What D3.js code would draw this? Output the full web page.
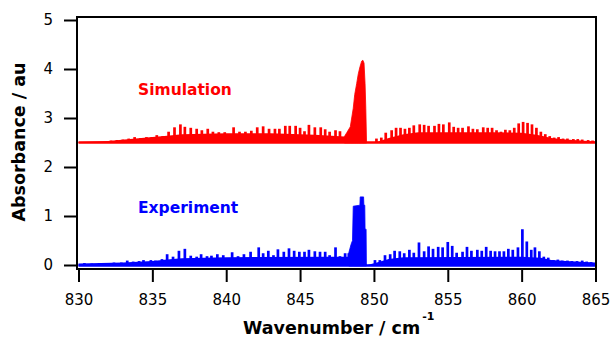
<!DOCTYPE html>
<html><head><meta charset="utf-8">
<script src="https://cdn.jsdelivr.net/npm/d3@7"></script>
<style>body{margin:0;background:#fff} svg{display:block}</style>
</head><body><svg id="c" width="611" height="340"></svg>
<script>
const xTicks = [830, 835, 840, 845, 850, 855, 860, 865];
const yTicks = [0, 1, 2, 3, 4, 5];
const xTitle = "Wavenumber / cm";
const xTitleSup = "-1";
const yTitle = "Absorbance / au";
const simLabel = "Simulation";
const expLabel = "Experiment";

// Simulation (red) — offset trace
const simBase = 2.49;
const simFillX = [830, 832, 833.5, 835, 836, 837, 840, 843, 846, 848, 849.55, 850.0, 850.3, 851, 852, 853, 858, 860, 861, 861.5, 862, 863, 865];
const simFillY = [2.51, 2.53, 2.57, 2.61, 2.64, 2.67, 2.69, 2.69, 2.66, 2.62, 2.49, 2.5, 2.52, 2.59, 2.67, 2.71, 2.71, 2.70, 2.66, 2.63, 2.59, 2.56, 2.52];
const simPeakX = [832.2, 832.6, 833.0, 833.4, 833.8, 834.2, 834.6, 834.96, 835.3, 835.7, 836.1, 836.5, 836.9, 837.2, 837.6, 838.0, 838.35, 838.75, 839.1, 839.5, 839.9, 840.5, 840.9, 841.3, 841.7, 842.1, 842.5, 842.9, 843.3, 843.6, 844.0, 844.3, 844.7, 845.0, 845.3, 845.6, 846.0, 846.4, 846.7, 847.0, 847.4, 847.7,
  850.17, 850.5, 850.8, 851.2, 851.5, 851.8, 852.1, 852.4, 852.7, 853.1, 853.4, 853.7, 854.1, 854.4, 854.7, 855.1, 855.4, 855.7, 856.0, 856.4, 856.7, 857.0, 857.4, 857.7, 858.0, 858.3, 858.6, 858.9, 859.2, 859.5, 859.8, 860.1, 860.4, 860.7, 861.0, 861.3, 861.6, 861.9, 862.2, 862.5, 862.8, 863.1, 863.5, 863.8, 864.1, 864.5, 864.8];
const simPeakY = [2.54, 2.55, 2.56, 2.58, 2.61, 2.59, 2.61, 2.61, 2.65, 2.63, 2.72, 2.81, 2.87, 2.82, 2.80, 2.78, 2.75, 2.78, 2.72, 2.71, 2.71, 2.81, 2.72, 2.72, 2.74, 2.81, 2.83, 2.78, 2.78, 2.78, 2.84, 2.84, 2.84, 2.80, 2.73, 2.86, 2.81, 2.81, 2.77, 2.72, 2.75, 2.73,
  2.58, 2.60, 2.70, 2.75, 2.80, 2.80, 2.78, 2.80, 2.85, 2.87, 2.86, 2.84, 2.84, 2.88, 2.87, 2.91, 2.82, 2.80, 2.80, 2.83, 2.78, 2.77, 2.81, 2.80, 2.80, 2.75, 2.72, 2.76, 2.75, 2.80, 2.89, 2.92, 2.90, 2.87, 2.80, 2.72, 2.67, 2.63, 2.60, 2.61, 2.58, 2.58, 2.57, 2.57, 2.56, 2.55, 2.54];
const simQX = [848.0, 848.16, 848.4, 848.6, 848.7, 848.83, 848.94, 849.06, 849.17, 849.25, 849.33, 849.4, 849.45, 849.5];
const simQY = [2.62, 2.7, 2.82, 3.2, 3.48, 3.7, 3.9, 4.05, 4.16, 4.18, 4.12, 3.7, 3.2, 2.5];

// Experiment (blue)
const expBase = -0.02;
const expFillX = [830, 833, 835, 836, 837, 840, 847, 848.3, 849.55, 850.2, 851, 852, 860, 861.3, 862, 863, 865];
const expFillY = [0.03, 0.05, 0.08, 0.11, 0.14, 0.16, 0.17, 0.17, 0.0, 0.05, 0.12, 0.16, 0.17, 0.15, 0.1, 0.08, 0.05];
const expPeakX = [830.4, 830.9, 831.4, 831.9, 832.4, 832.9, 833.3, 833.7, 834.1, 834.4, 834.9, 835.2, 835.65, 836.0, 836.4, 836.8, 837.2, 837.6, 838.0, 838.3, 838.7, 839.0, 839.4, 839.8, 840.4, 840.8, 841.2, 841.65, 842.2, 842.5, 842.85, 843.2, 843.5, 843.9, 844.25, 844.6, 844.95, 845.3, 845.6, 846.0, 846.35, 846.7, 847.0, 847.4, 847.7, 848.05, 848.3,
  850.07, 850.4, 850.75, 851.1, 851.4, 851.75, 852.05, 852.4, 852.7, 853.05, 853.4, 853.7, 854.0, 854.35, 854.65, 855.0, 855.3, 855.6, 856.0, 856.3, 856.6, 857.0, 857.3, 857.6, 857.9, 858.2, 858.5, 858.8, 859.1, 859.4, 859.75, 860.05, 860.35, 860.65, 860.9, 861.2, 861.5, 861.8, 862.15, 862.45, 862.75, 863.1, 863.4, 863.75, 864.1, 864.4, 864.7];
const expPeakY = [0.04, 0.03, 0.04, 0.04, 0.05, 0.05, 0.09, 0.07, 0.08, 0.10, 0.10, 0.09, 0.12, 0.22, 0.17, 0.29, 0.33, 0.19, 0.17, 0.22, 0.18, 0.19, 0.22, 0.20, 0.26, 0.18, 0.22, 0.27, 0.36, 0.24, 0.29, 0.20, 0.32, 0.27, 0.34, 0.29, 0.27, 0.27, 0.31, 0.28, 0.27, 0.27, 0.20, 0.36, 0.18, 0.24, 0.24,
  0.10, 0.10, 0.20, 0.22, 0.29, 0.28, 0.24, 0.31, 0.25, 0.46, 0.28, 0.38, 0.33, 0.37, 0.36, 0.47, 0.39, 0.25, 0.27, 0.37, 0.29, 0.31, 0.29, 0.37, 0.29, 0.28, 0.28, 0.28, 0.33, 0.31, 0.36, 0.73, 0.48, 0.31, 0.36, 0.28, 0.17, 0.15, 0.10, 0.11, 0.09, 0.09, 0.08, 0.08, 0.09, 0.07, 0.06];
const expQX = [848.3, 848.45, 848.55, 848.6, 849.05, 849.07, 849.3, 849.32, 849.38, 849.4, 849.47, 849.49];
const expQY = [0.25, 0.42, 0.5, 1.2, 1.22, 1.39, 1.39, 1.22, 1.22, 0.73, 0.73, 0.0];

const svg = d3.select('#c');
const x = d3.scaleLinear().domain([830, 865]).range([78.5, 595.5]);
const y = d3.scaleLinear().domain([0, 5]).range([265, 20]);

function drawSpectrum(color, base, fillX, fillY, peakX, peakY, qX, qY) {
  const g = svg.append('g');
  const fillPts = fillX.map((v, i) => [v, fillY[i]]);
  g.append('path').datum(fillPts)
    .attr('d', d3.area().x(d => x(d[0])).y0(y(base)).y1(d => y(d[1])))
    .attr('fill', color);
  g.append('path').datum(fillPts)
    .attr('d', d3.line().x(d => x(d[0])).y(() => y(base + 0.01)))
    .attr('stroke', color).attr('stroke-width', 2.4).attr('fill', 'none');
  g.selectAll('rect').data(peakX.map((v, i) => [v, peakY[i]])).join('rect')
    .attr('x', d => x(d[0]) - 1.35).attr('width', 2.7)
    .attr('y', d => y(d[1])).attr('height', d => y(base) - y(d[1]))
    .attr('fill', color);
  const qPts = qX.map((v, i) => [v, qY[i]]);
  g.append('path').datum(qPts)
    .attr('d', d3.area().x(d => x(d[0])).y0(y(base)).y1(d => y(d[1])))
    .attr('fill', color).attr('stroke', color).attr('stroke-width', 0.8);
}

drawSpectrum('#ff0000', simBase, simFillX, simFillY, simPeakX, simPeakY, simQX, simQY);
drawSpectrum('#0000ff', expBase, expFillX, expFillY, expPeakX, expPeakY, expQX, expQY);

// frame
svg.append('rect').attr('x', 77).attr('y', 17).attr('width', 519).attr('height', 252)
  .attr('fill', 'none').attr('stroke', '#000').attr('stroke-width', 2);

const yAxis = svg.append('g').attr('transform', 'translate(77,0)')
  .call(d3.axisLeft(y).tickValues(yTicks).tickSize(13).tickPadding(11).tickSizeOuter(0).tickFormat(d3.format('d')));
const xAxis = svg.append('g').attr('transform', 'translate(0,269)')
  .call(d3.axisBottom(x).tickValues(xTicks).tickSize(13).tickPadding(12).tickSizeOuter(0).tickFormat(d3.format('d')));
[yAxis, xAxis].forEach(a => {
  a.select('.domain').remove();
  a.selectAll('line').attr('stroke', '#000').attr('stroke-width', 2);
  a.selectAll('text').attr('fill', '#000').style('font-family', 'DejaVu Sans').style('font-size', '15px');
});

svg.append('text').attr('transform', 'translate(25,142) rotate(-90)')
  .attr('text-anchor', 'middle')
  .style('font-family', 'DejaVu Sans').style('font-weight', 'bold').style('font-size', '17.5px')
  .text(yTitle);

const xt = svg.append('text').attr('x', 243).attr('y', 334)
  .style('font-family', 'DejaVu Sans').style('font-weight', 'bold').style('font-size', '17.5px');
xt.append('tspan').text(xTitle);
xt.append('tspan').attr('dx', 2).attr('dy', -14).style('font-size', '11px').text(xTitleSup);

svg.append('text').attr('x', 138).attr('y', 95)
  .style('font-family', 'DejaVu Sans').style('font-weight', 'bold').style('font-size', '15.5px')
  .attr('fill', '#ff0000').text(simLabel);
svg.append('text').attr('x', 138).attr('y', 213)
  .style('font-family', 'DejaVu Sans').style('font-weight', 'bold').style('font-size', '15.5px')
  .attr('fill', '#0000ff').text(expLabel);
</script></body></html>
